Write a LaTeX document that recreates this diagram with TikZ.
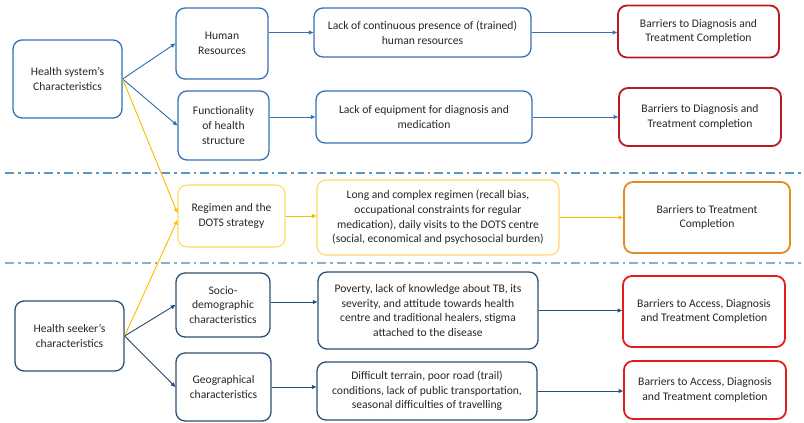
\documentclass[tikz,border=0pt]{standalone}
\usepackage{fontspec}
\setmainfont{Carlito}
\usetikzlibrary{arrows.meta}
\definecolor{topblue}{RGB}{52,114,178}
\definecolor{botblue}{RGB}{43,79,114}
\definecolor{ylwbox}{RGB}{255,217,102}
\definecolor{ylwarr}{RGB}{250,190,0}
\definecolor{orangebox}{RGB}{228,138,42}
\definecolor{darkred}{RGB}{185,25,35}
\definecolor{brightred}{RGB}{225,30,30}
\definecolor{dash1}{RGB}{90,150,200}
\definecolor{dash2}{RGB}{140,175,200}
\definecolor{txt}{RGB}{38,38,38}
\tikzset{
  box/.style={draw, rounded corners=9pt, line width=1.3pt, align=center, inner sep=0pt,
    text=txt, font=\fontsize{11.6}{14.6}\selectfont},
  bluebox/.style={box, draw=topblue},
  darkbox/.style={box, draw=botblue},
  ylwbox/.style={box, draw=ylwbox, line width=1.1pt},
  orgbox/.style={box, draw=orangebox, line width=1.8pt},
  redbox/.style={box, draw=darkred, line width=1.8pt},
  brbox/.style={box, draw=brightred, line width=1.8pt},
  arr/.style={line width=0.9pt, -{Triangle[length=4.5pt,width=4pt]}},
  sep/.style={line width=1.1pt, dash pattern=on 9pt off 4pt on 2.5pt off 4pt},
}
\begin{document}
\begin{tikzpicture}[x=1pt,y=-1pt]
\useasboundingbox (0,0) rectangle (804,423);
% separators
\coordinate (s1a) at (5,173); \coordinate (s1b) at (804,173);
\coordinate (s2a) at (5,263); \coordinate (s2b) at (804,263);
\draw[sep, draw=dash1] (s1a) -- (s1b);
\draw[sep, draw=dash2] (s2a) -- (s2b);
% top band
\node[bluebox, minimum width=109pt, minimum height=78pt] (hs) at (67.5,79) {Health system’s\\Characteristics};
\node[bluebox, minimum width=92pt, minimum height=71pt] (hr) at (222,43.5) {Human\\Resources};
\node[bluebox, minimum width=91pt, minimum height=69pt] (fh) at (223.5,125.5) {Functionality\\of health\\structure};
\node[bluebox, minimum width=217pt, minimum height=49pt] (lack) at (422.5,32.5) {Lack of continuous presence of (trained)\\human resources};
\node[redbox, minimum width=161pt, minimum height=52pt] (b1) at (698.5,31.5) {Barriers to Diagnosis and\\Treatment Completion};
\node[bluebox, minimum width=216pt, minimum height=52pt] (eq) at (424,117) {Lack of equipment for diagnosis and\\medication};
\node[redbox, minimum width=162pt, minimum height=58pt] (b2) at (700,117) {Barriers to Diagnosis and\\Treatment completion};
% middle band
\node[ylwbox, minimum width=107pt, minimum height=62pt] (reg) at (231.5,216) {Regimen and the\\DOTS strategy};
\node[ylwbox, minimum width=242pt, minimum height=75pt] (long) at (438,217.5) {Long and complex regimen (recall bias,\\occupational constraints for regular\\medication), daily visits to the DOTS centre\\(social, economical and psychosocial burden)};
\node[orgbox, minimum width=166pt, minimum height=71pt] (bt) at (707,217.5) {Barriers to Treatment\\Completion};
% bottom band
\node[darkbox, minimum width=109pt, minimum height=70pt] (hk) at (69.5,336) {Health seeker’s\\characteristics};
\node[darkbox, minimum width=94pt, minimum height=64pt] (so) at (223,305) {Socio-\\demographic\\characteristics};
\node[darkbox, minimum width=95pt, minimum height=68pt] (geo) at (223.5,387) {Geographical\\characteristics};
\node[darkbox, minimum width=220pt, minimum height=77pt] (pov) at (428,310.5) {Poverty, lack of knowledge about TB, its\\severity, and attitude towards health\\centre and traditional healers, stigma\\attached to the disease};
\node[darkbox, minimum width=220pt, minimum height=58pt] (ter) at (427,391) {Difficult terrain, poor road (trail)\\conditions, lack of public transportation,\\seasonal difficulties of travelling};
\node[brbox, minimum width=162pt, minimum height=71pt] (ba1) at (704,311.5) {Barriers to Access, Diagnosis\\and Treatment Completion};
\node[brbox, minimum width=162pt, minimum height=58pt] (ba2) at (705,390) {Barriers to Access, Diagnosis\\and Treatment completion};
% connectors top
\draw[arr, draw=topblue, fill=topblue] (hs.east) -- (hr.west);
\draw[arr, draw=topblue, fill=topblue] (hs.east) -- (fh.west);
\draw[arr, draw=topblue, fill=topblue] (hr.east |- lack.west) -- (lack.west);
\draw[arr, draw=topblue, fill=topblue] (lack.east) -- (lack.east -| b1.west);
\draw[arr, draw=topblue, fill=topblue] (fh.east |- eq.west) -- (eq.west);
\draw[arr, draw=topblue, fill=topblue] (eq.east) -- (eq.east -| b2.west);
% connectors middle
\draw[arr, draw=ylwarr, fill=ylwarr] (hs.east) -- ([yshift=3pt]reg.west);
\draw[arr, draw=ylwarr, fill=ylwarr] (hk.east) -- ([yshift=-4pt]reg.west);
\draw[arr, draw=ylwarr, fill=ylwarr] (reg.east) -- (reg.east -| long.west);
\draw[arr, draw=ylwarr, fill=ylwarr] (long.east) -- (long.east -| bt.west);
% connectors bottom
\draw[arr, draw=botblue, fill=botblue] (hk.east) -- (so.west);
\draw[arr, draw=botblue, fill=botblue] (hk.east) -- (geo.west);
\draw[arr, draw=botblue, fill=botblue] ([yshift=3pt]so.east) -- ([yshift=3pt]so.east -| pov.west);
\draw[arr, draw=botblue, fill=botblue] (pov.east) -- (pov.east -| ba1.west);
\draw[arr, draw=botblue, fill=botblue] (geo.east) -- (geo.east -| ter.west);
\draw[arr, draw=botblue, fill=botblue] (ter.east) -- (ter.east -| ba2.west);
\end{tikzpicture}
\end{document}
